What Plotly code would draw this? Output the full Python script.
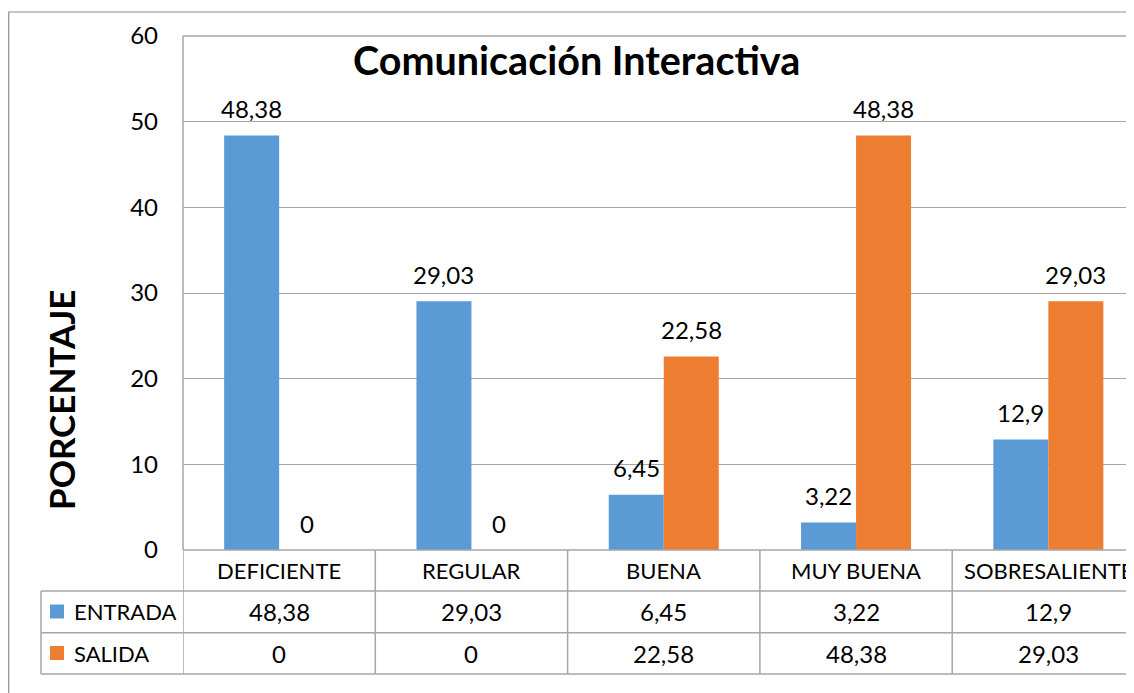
import plotly.graph_objects as go

# ---- data ----
categories = ["DEFICIENTE", "REGULAR", "BUENA", "MUY BUENA", "SOBRESALIENTE"]
entrada = [48.38, 29.03, 6.45, 3.22, 12.9]
salida = [0, 0, 22.58, 48.38, 29.03]
series_names = ["ENTRADA", "SALIDA"]
y_ticks = [0, 10, 20, 30, 40, 50, 60]
title_text = "Comunicación Interactiva"
y_title = "PORCENTAJE"

BLUE = "#5b9bd5"
ORANGE = "#ed7d31"
LINE = "#a6a6a6"
FONT = "Lato"

# ---- layout geometry (reference-picture pixels) ----
OFF = 8                            # page body margin of the html page
FIG_W, FIG_H = 1134 - OFF, 693 - OFF
L, T, B = 183, 36, 550            # plot area left / top / bottom (picture px)
W = 1134 - L
H = B - T
CAT_W = 192.3                      # one category's width in pixels


def fmt(v):
    return f"{v:g}".replace(".", ",")


def pxx(x):
    return (x - L) / W


def pxy(y):
    return (B - y) / H


fig = go.Figure()
fig.add_bar(x=categories, y=entrada, name=series_names[0], marker_color=BLUE,
            marker_line_width=0)
fig.add_bar(x=categories, y=salida, name=series_names[1], marker_color=ORANGE,
            marker_line_width=0)

annotations = []
shapes = []

# data labels above bars
half = CAT_W * (1 - 0.428) / 4
for vals, sh in ((entrada, -half), (salida, half)):
    for c, v in zip(categories, vals):
        annotations.append(dict(x=c, y=v, xref="x", yref="y", text=fmt(v),
                                showarrow=False, xshift=sh, yshift=27,
                                xanchor="center", yanchor="middle",
                                font=dict(family=FONT, size=24, color="#000")))

# title
annotations.append(dict(x=pxx(576), y=pxy(60), xref="paper", yref="paper",
                        text=f"<b>{title_text}</b>", showarrow=False,
                        xanchor="center", yanchor="middle",
                        font=dict(family=FONT, size=39.5, color="#000")))
# y title
annotations.append(dict(x=pxx(61), y=pxy(400), xref="paper", yref="paper",
                        text=f"<b>{y_title}</b>", showarrow=False, textangle=-90,
                        xanchor="center", yanchor="middle",
                        font=dict(family=FONT, size=35, color="#000")))

# ---- data table ----
row_lines = [591, 632.7, 674]
row_centers = [570.5, 611.5, 653]
table_left = 41

# category labels
for c in categories:
    annotations.append(dict(x=c, y=pxy(row_centers[0]), xref="x", yref="paper",
                            text=c, showarrow=False, xanchor="center", yanchor="middle",
                            font=dict(family=FONT, size=22, color="#000")))
# values
for r, vals in enumerate((entrada, salida)):
    for c, v in zip(categories, vals):
        annotations.append(dict(x=c, y=pxy(row_centers[r + 1]), xref="x", yref="paper",
                                text=fmt(v), showarrow=False, xanchor="center",
                                yanchor="middle",
                                font=dict(family=FONT, size=24, color="#000")))
# legend keys + names
for r, (name, col) in enumerate(zip(series_names, (BLUE, ORANGE))):
    yc = row_centers[r + 1]
    shapes.append(dict(type="rect", xref="paper", yref="paper",
                       x0=pxx(50), x1=pxx(64), y0=pxy(yc + 7), y1=pxy(yc - 7),
                       fillcolor=col, line=dict(width=0)))
    annotations.append(dict(x=pxx(72), y=pxy(yc), xref="paper", yref="paper",
                            text=name, showarrow=False, xanchor="left",
                            yanchor="middle",
                            font=dict(family=FONT, size=22, color="#000")))

# table horizontal lines
shapes.append(dict(type="line", xref="paper", yref="paper", x0=0, x1=1.05,
                   y0=0, y1=0, line=dict(color=LINE, width=1.5)))
for yl in row_lines:
    shapes.append(dict(type="line", xref="paper", yref="paper", x0=pxx(table_left),
                       x1=1.05, y0=pxy(yl), y1=pxy(yl),
                       line=dict(color=LINE, width=1.5)))
# table vertical lines at category boundaries
for i in range(len(categories)):
    shapes.append(dict(type="line", xref="x", yref="paper", x0=i - 0.5, x1=i - 0.5,
                       y0=pxy(row_lines[-1]), y1=0,
                       line=dict(color=LINE, width=1.5)))
shapes.append(dict(type="line", xref="paper", yref="paper", x0=pxx(table_left),
                   x1=pxx(table_left), y0=pxy(row_lines[-1]), y1=pxy(row_lines[0]),
                   line=dict(color=LINE, width=1.5)))
# plot top border and left axis
shapes.append(dict(type="line", xref="paper", yref="paper", x0=0, x1=1.05,
                   y0=1, y1=1, line=dict(color=LINE, width=1.5)))
shapes.append(dict(type="line", xref="paper", yref="paper", x0=0, x1=0,
                   y0=0, y1=1, line=dict(color=LINE, width=1.5)))
# outer chart border
shapes.append(dict(type="rect", xref="paper", yref="paper",
                   x0=pxx(8.7), x1=1.1, y0=pxy(760), y1=pxy(12),
                   line=dict(color="#8c8c8c", width=1.2), fillcolor="rgba(0,0,0,0)"))

fig.update_layout(
    width=FIG_W, height=FIG_H,
    margin=dict(l=L - OFF, r=0, t=T - OFF, b=693 - B, pad=0),
    paper_bgcolor="white", plot_bgcolor="white",
    barmode="group", bargap=0.428, bargroupgap=0,
    showlegend=False,
    annotations=annotations, shapes=shapes,
    font=dict(family=FONT, size=22, color="#000"),
)
fig.update_xaxes(range=[-0.5, -0.5 + W / CAT_W], showticklabels=False,
                 showgrid=False, zeroline=False, showline=False, ticks="")
fig.update_yaxes(range=[0, 60], tickvals=y_ticks, showgrid=True, gridcolor=LINE,
                 gridwidth=1.2, zeroline=False, showline=False, ticks="",
                 ticklabelstandoff=24,
                 tickfont=dict(family=FONT, size=24, color="#000"))

fig.write_html("out.html")
